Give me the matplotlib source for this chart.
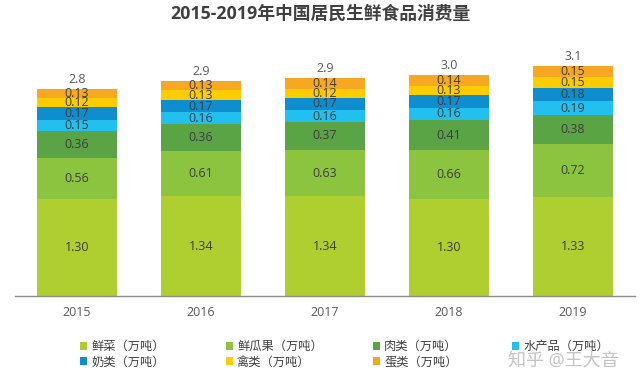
import matplotlib
matplotlib.use("Agg")
import matplotlib.pyplot as plt
import numpy as np
from matplotlib.patches import Patch

years = ["2015", "2016", "2017", "2018", "2019"]
veg = [1.30, 1.34, 1.34, 1.30, 1.33]
fruit = [0.56, 0.61, 0.63, 0.66, 0.72]
meat = [0.36, 0.36, 0.37, 0.41, 0.38]
aqua = [0.15, 0.16, 0.16, 0.16, 0.19]
milk = [0.17, 0.17, 0.17, 0.17, 0.18]
poultry = [0.12, 0.13, 0.12, 0.13, 0.15]
egg = [0.13, 0.13, 0.14, 0.14, 0.15]
totals = ["2.8", "2.9", "2.9", "3.0", "3.1"]

series_names = ["鲜菜（万吨）", "鲜瓜果（万吨）", "肉类（万吨）", "水产品（万吨）",
                "奶类（万吨）", "禽类（万吨）", "蛋类（万吨）"]
series = [veg, fruit, meat, aqua, milk, poultry, egg]
colors = ["#AECF2F", "#8CC43F", "#5BA446", "#22C0EE", "#0E8DCF", "#FFCC00", "#F7A823"]

FONT = ["Open Sans", "Noto Sans CJK SC", "DejaVu Sans"]
plt.rcParams["font.family"] = FONT

fig = plt.figure(figsize=(6.41, 3.86), dpi=100)
ax = fig.add_axes([15/641, 1 - 296/386, 620/641, 266/386])

x = np.arange(len(years))
bottom = np.zeros(len(years))
for vals, c in zip(series, colors):
    vals = np.array(vals)
    ax.bar(x, vals, width=0.645, bottom=bottom, color=c, edgecolor="none")
    for xi, b, v in zip(x, bottom, vals):
        ax.text(xi, b + v / 2, f"{v:.2f}", ha="center", va="center",
                fontsize=9, color="#3d3d3d")
    bottom += vals

for xi, b, t in zip(x, bottom, totals):
    ax.text(xi, b + 0.04, t, ha="center", va="bottom", fontsize=9, color="#595959")

ax.set_xlim(-0.5, 4.5)
ax.set_ylim(0, 3.58)
ax.set_yticks([])
ax.set_xticks(x)
ax.set_xticklabels(years, fontsize=9, color="#595959")
ax.tick_params(axis="x", length=0, pad=7)
for s in ["top", "right", "left"]:
    ax.spines[s].set_visible(False)
ax.spines["bottom"].set_color("#8c8c8c")
ax.spines["bottom"].set_linewidth(1.0)

fig.text(0.5, 1 - 14/386, "2015-2019年中国居民生鲜食品消费量", ha="center", va="center",
         fontsize=12.8, fontweight="bold", color="#404040")

# legends: four columns placed manually
col_x = [74, 220, 367, 506]
cols = [[0, 4], [1, 5], [2, 6], [3]]
for cx, idxs in zip(col_x, cols):
    handles = [Patch(facecolor=colors[i], edgecolor="none") for i in idxs]
    labels = [series_names[i] for i in idxs]
    fig.legend(handles, labels, loc="upper left",
               bbox_to_anchor=(cx/641, 1 - 334/386), frameon=False,
               fontsize=8.8, handlelength=0.6, handleheight=0.6,
               handletextpad=0.3, labelspacing=0.2, borderpad=0,
               labelcolor="#404040")

fig.text(508/641, 1 - 361/386, "知乎 @王大音", ha="left", va="center",
         fontsize=13, color="#c4c4c4")

fig.savefig("out.png", dpi=100)
